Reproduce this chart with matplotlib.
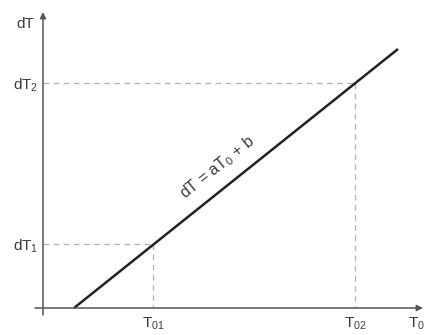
import matplotlib
matplotlib.use("Agg")
import matplotlib.pyplot as plt

# Schematic values (arbitrary units)
T0_marks = [110, 312]          # T01, T02
dT_marks = [64, 225]           # dT1, dT2
line_T0 = [31, 355]            # start / end of the line dT = aT0 + b
line_dT = [0, 259]
axis_x = [-8, 380]             # x-axis extent
axis_y = [-7, 296]             # y-axis extent
x_labels = [r"T$_{\mathregular{01}}$", r"T$_{\mathregular{02}}$"]
y_labels = [r"dT$_{\mathregular{1}}$", r"dT$_{\mathregular{2}}$"]

plt.rcParams['font.family'] = ['Liberation Sans', 'DejaVu Sans']
plt.rcParams['mathtext.fontset'] = 'custom'
plt.rcParams['mathtext.rm'] = 'Liberation Sans'
plt.rcParams['mathtext.it'] = 'Liberation Sans'

fig = plt.figure(figsize=(4.25, 3.35), dpi=100)
ax = fig.add_axes([0, 0, 1, 1])
ax.set_xlim(-43, 382)
ax.set_ylim(-27, 308)
ax.axis('off')

axis_col = '#555555'
text_col = '#3a3a3a'
dash_col = '#b0b0b0'

# axes with arrows
ax.annotate('', xy=(axis_x[1], 0), xytext=(axis_x[0], 0),
            arrowprops=dict(arrowstyle='-|>', color=axis_col, lw=1.1,
                            mutation_scale=9, shrinkA=0, shrinkB=0))
ax.annotate('', xy=(0, axis_y[1]), xytext=(0, axis_y[0]),
            arrowprops=dict(arrowstyle='-|>', color=axis_col, lw=1.1,
                            mutation_scale=9, shrinkA=0, shrinkB=0))

# dashed guides
for tx, dy in zip(T0_marks, dT_marks):
    ax.plot([0, tx], [dy, dy], color=dash_col, lw=0.9, ls=(0, (4.5, 3.6)))
    ax.plot([tx, tx], [dy, 0], color=dash_col, lw=0.9, ls=(0, (4.5, 3.6)))

# main line
ax.plot(line_T0, line_dT, color='#222222', lw=1.8, solid_capstyle='butt')

# labels
ax.text(175, 141, r"dT = aT$_{\mathregular{0}}$ + b", rotation=38.6,
        rotation_mode='anchor', ha='center', va='center', fontsize=11.5,
        color=text_col)

ax.text(-9, 284, "dT", ha='right', va='center', fontsize=11, color=text_col)
for lab, dy in zip(y_labels, dT_marks):
    ax.text(-5, dy - 2, lab, ha='right', va='center', fontsize=11, color=text_col)
for lab, tx in zip(x_labels, T0_marks):
    ax.text(tx, -8, lab, ha='center', va='top', fontsize=11, color=text_col)
ax.text(365, -8, r"T$_{\mathregular{0}}$", ha='left', va='top', fontsize=11,
        color=text_col)

fig.savefig('out.png', dpi=100)
